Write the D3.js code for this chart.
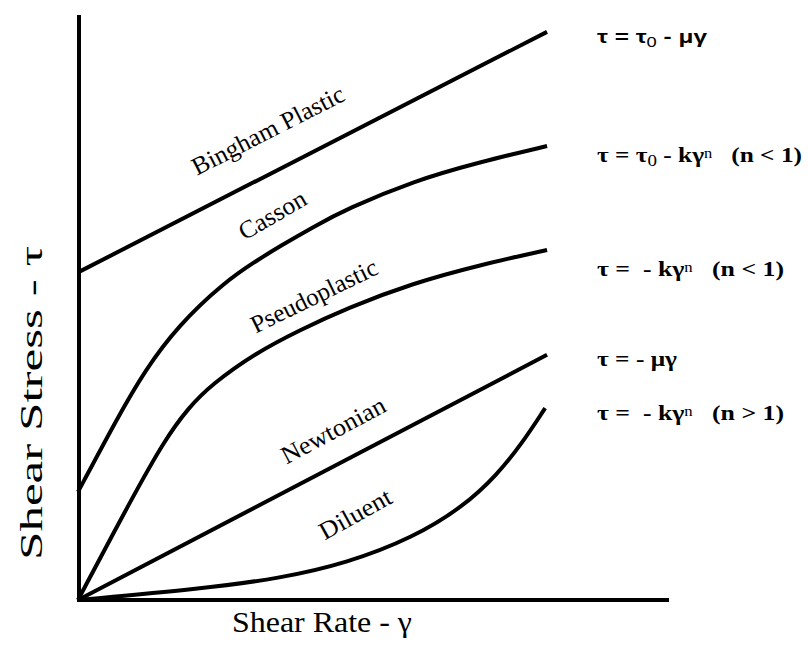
<!DOCTYPE html>
<html>
<head>
  <title>Shear stress vs shear rate</title>
  <script type="text/javascript" src="https://d3js.org/d3.v7.min.js"></script>
  <style>
    body { margin: 0; background: #fff; }
    text { font-family: "Liberation Serif", "Times New Roman", serif; fill: #000; }
  </style>
</head>
<body>
  <div id="container"></div>
  <script type="text/javascript">
    // curves (shear rate, shear stress), curves end at rate 100
    var binghamX = [0, 100];
    var binghamY = [70, 121.4];
    var cassonX = [0, 8.5, 14.3, 21.3, 31.3, 38.2, 43.1, 50.1, 57.4, 71.4, 85.7, 100];
    var cassonY = [23.1, 39.1, 49.1, 58.6, 68.0, 72.6, 75.6, 79.7, 83.6, 89.5, 93.6, 97.0];
    var pseudoX = [0, 11.3, 18.6, 23.5, 28.4, 37.9, 47.1, 57.4, 71.4, 85.7, 100];
    var pseudoY = [0, 21.4, 34.4, 41.0, 46.0, 52.8, 57.6, 62.4, 67.7, 71.6, 74.8];
    var newtonX = [0, 100];
    var newtonY = [0, 52.4];
    var diluentX = [0, 26, 43.1, 57.4, 71.4, 82.1, 89.3, 94.7, 99.6];
    var diluentY = [0, 2.4, 4.6, 7.9, 13.3, 19.9, 26.7, 33.5, 41.0];

    var seriesNames = ['Bingham Plastic', 'Casson', 'Pseudoplastic', 'Newtonian', 'Diluent'];
    // where each curve name sits (data units) and its tilt
    var labelX = [40.5, 41.4, 50.3, 54.4, 59.1];
    var labelY = [100.4, 82.3, 65.0, 36.3, 18.4];
    var labelAngle = [-27, -30, -26, -28, -29];
    var labelLength = [168, 74, 138, 115, 79];

    function drawGraph() {
      var width = 808, height = 664;
      var svg = d3.select('#container').append('svg')
        .attr('width', width).attr('height', height);

      var x = d3.scaleLinear().domain([0, 126]).range([78, 669]);
      var y = d3.scaleLinear().domain([0, 125]).range([600, 15]);

      var series = [
        {xs: binghamX, ys: binghamY},
        {xs: cassonX, ys: cassonY},
        {xs: pseudoX, ys: pseudoY},
        {xs: newtonX, ys: newtonY},
        {xs: diluentX, ys: diluentY}
      ];

      var line = d3.line()
        .x(d => x(d[0]))
        .y(d => y(d[1]))
        .curve(d3.curveBasis);

      series.forEach(function (s) {
        svg.append('path')
          .datum(d3.zip(s.xs, s.ys))
          .attr('d', line)
          .attr('fill', 'none')
          .attr('stroke', 'black')
          .attr('stroke-width', 4);
      });

      // axes: plain thick lines, no ticks
      svg.append('line')
        .attr('x1', x(0) + 1).attr('y1', y(125))
        .attr('x2', x(0) + 1).attr('y2', y(0) + 2)
        .attr('stroke', 'black').attr('stroke-width', 4);
      svg.append('line')
        .attr('x1', x(0)).attr('y1', y(0))
        .attr('x2', x(126)).attr('y2', y(0))
        .attr('stroke', 'black').attr('stroke-width', 4);

      // curve names
      seriesNames.forEach(function (name, i) {
        svg.append('text')
          .attr('transform', `translate(${x(labelX[i])},${y(labelY[i])}) rotate(${labelAngle[i]})`)
          .attr('text-anchor', 'middle')
          .attr('dominant-baseline', 'central')
          .attr('font-size', 25)
          .attr('textLength', labelLength[i])
          .attr('lengthAdjust', 'spacingAndGlyphs')
          .text(name);
      });

      // equations on the right
      var eq = [
        {base: 43, len: 110, sans: true, parts: [['τ = τ'], ['0', 'sub'], [' - μγ']]},
        {base: 162, len: 205, parts: [['τ = τ'], ['0', 'sub'], [' - kγ'], ['n', 'sup'], ['   (n < 1)']]},
        {base: 276, len: 187, parts: [['τ =  - kγ'], ['n', 'sup'], ['   (n < 1)']]},
        {base: 366, len: 80, parts: [['τ = - μγ']]},
        {base: 420, len: 187, parts: [['τ =  - kγ'], ['n', 'sup'], ['   (n > 1)']]}
      ];
      eq.forEach(function (e) {
        var t = svg.append('text')
          .attr('x', 597).attr('y', e.base)
          .attr('font-size', 21)
          .attr('font-weight', 'bold')
          .attr('xml:space', 'preserve')
          .style('white-space', 'pre')
          .attr('textLength', e.len)
          .attr('lengthAdjust', 'spacingAndGlyphs');
        if (e.sans) t.style('font-family', '"Liberation Sans", Arial, sans-serif').attr('font-size', 19);
        e.parts.forEach(function (p) {
          var ts = t.append('tspan').text(p[0]);
          if (p[1] === 'sub') ts.attr('baseline-shift', '-28%').attr('font-size', '75%').attr('font-weight', 'normal');
          if (p[1] === 'sup') ts.attr('baseline-shift', '30%').attr('font-size', '65%').attr('font-weight', 'normal');
        });
      });

      // axis titles
      svg.append('text')
        .attr('x', 232).attr('y', 632)
        .attr('font-size', 29)
        .attr('textLength', 180)
        .attr('lengthAdjust', 'spacingAndGlyphs')
        .text('Shear Rate - γ');
      svg.append('text')
        .attr('transform', 'translate(42,560) rotate(-90)')
        .attr('font-size', 31)
        .attr('textLength', 314)
        .attr('lengthAdjust', 'spacingAndGlyphs')
        .text('Shear Stress - τ');
    }

    drawGraph();
  </script>
</body>
</html>
